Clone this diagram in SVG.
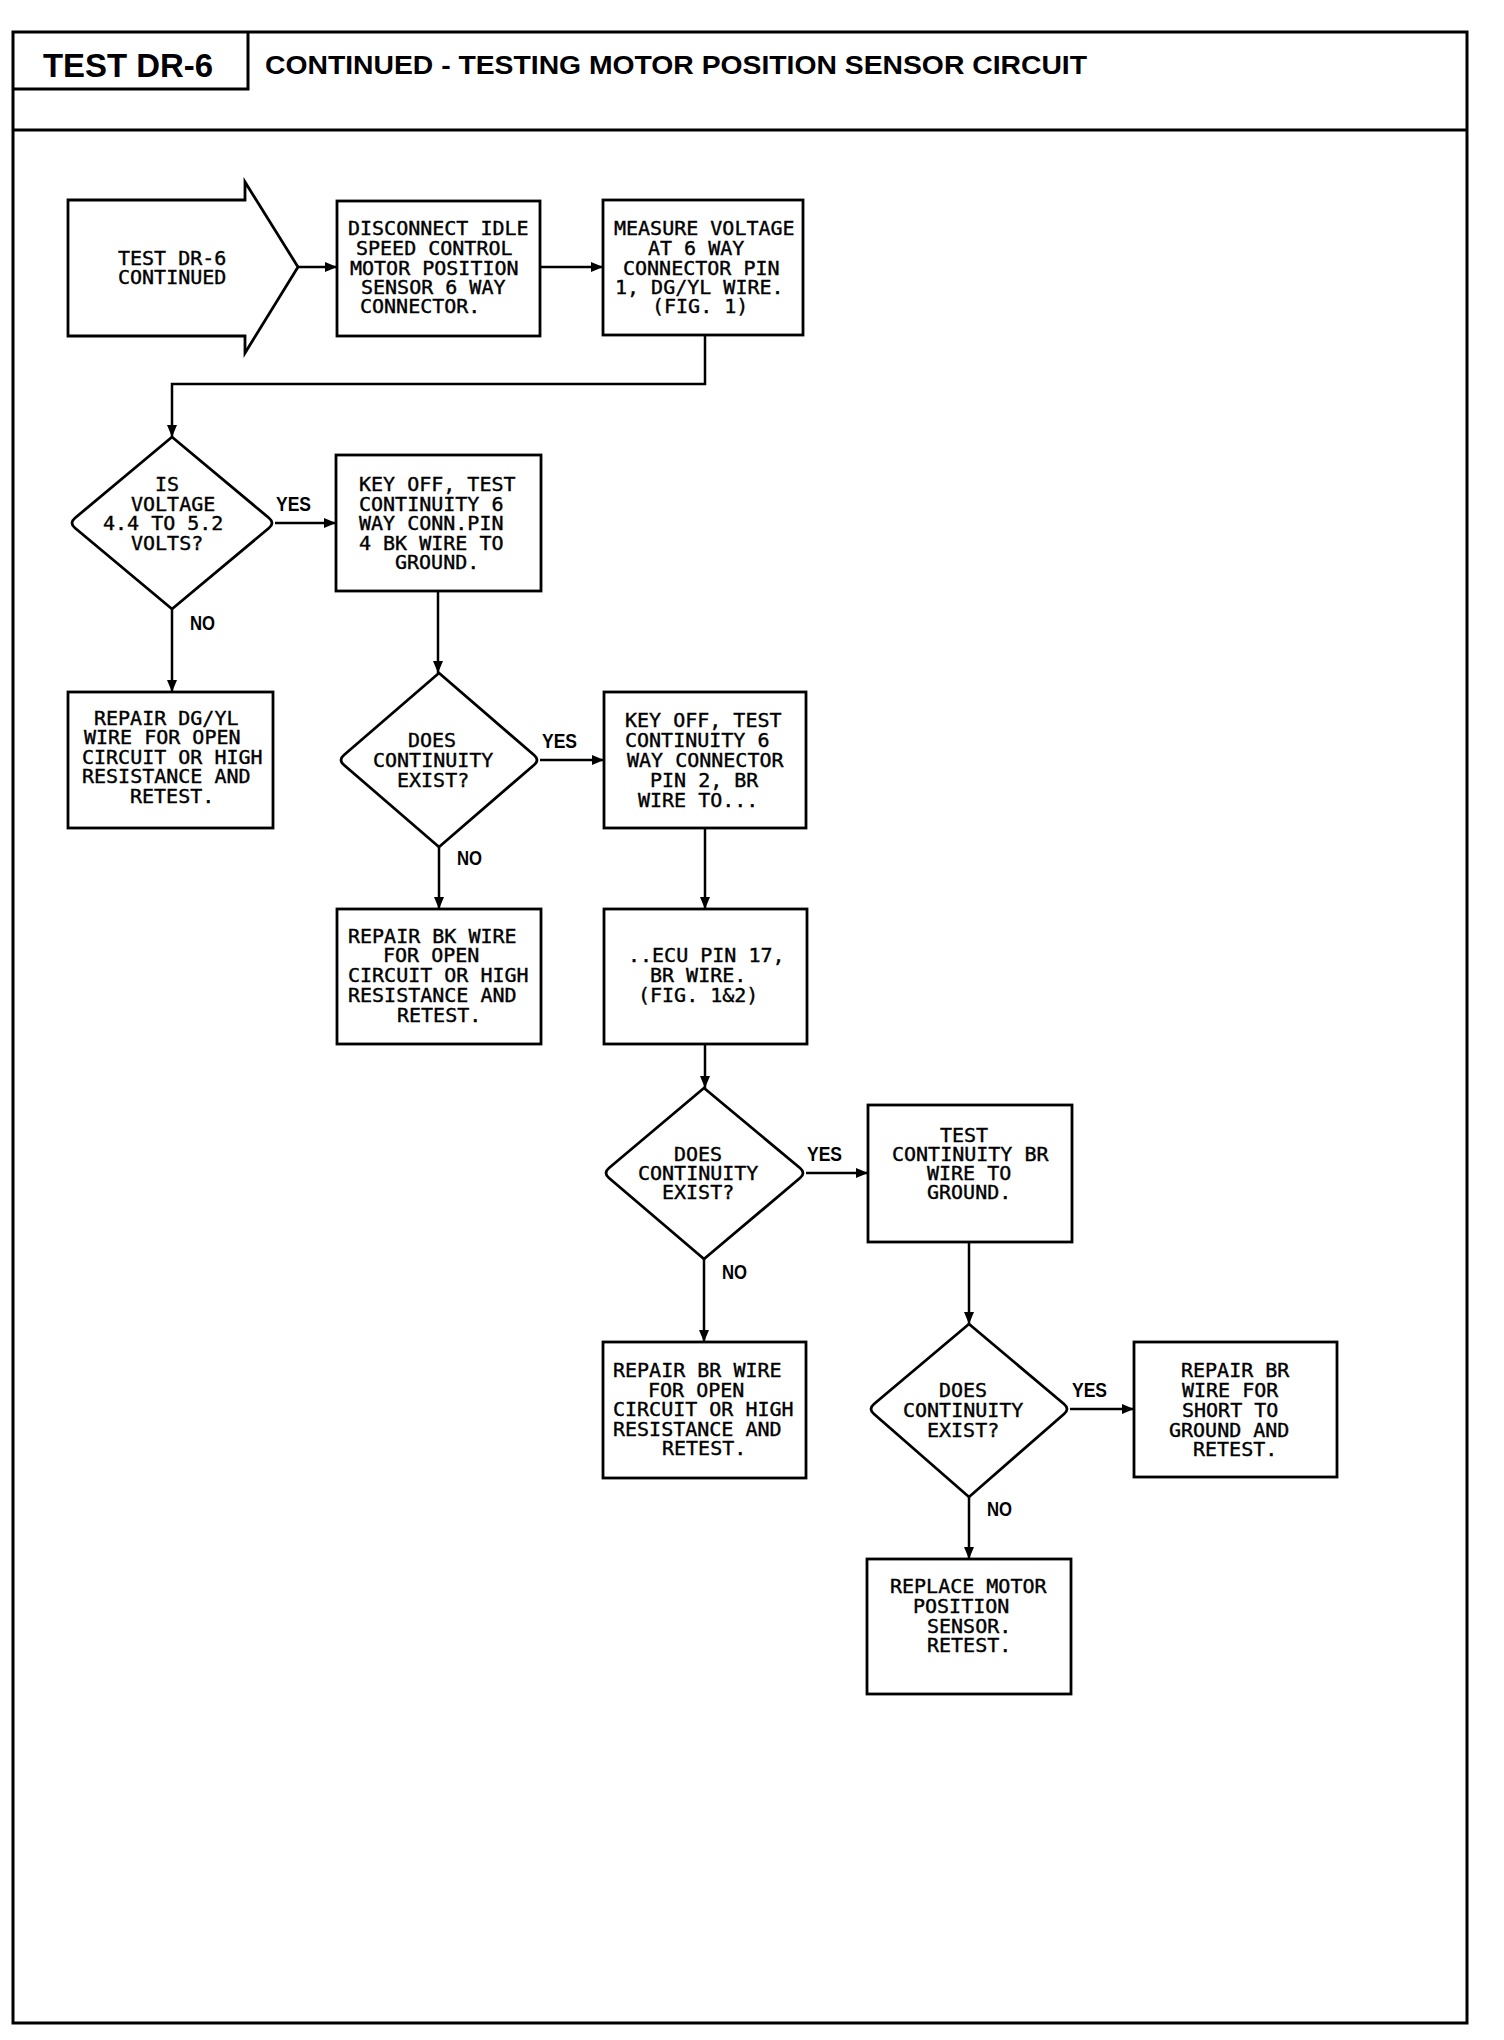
<svg xmlns="http://www.w3.org/2000/svg" width="1504" height="2040" viewBox="0 0 1504 2040">
<style>
.frame{fill:none;stroke:#000;stroke-width:3}
.box{fill:#fff;stroke:#000;stroke-width:2.8}
.con{fill:none;stroke:#000;stroke-width:2.5}
.t{font-family:"DejaVu Sans Mono","Liberation Mono",monospace;font-size:20px;fill:#000;stroke:#000;stroke-width:0.4}
.lbl{font-family:"Liberation Sans",Arial,sans-serif;font-size:21px;font-weight:bold;fill:#000}
.hd{font-family:"Liberation Sans",Arial,sans-serif;font-weight:bold;fill:#000}
</style>
<defs>
<marker id="ah" markerUnits="userSpaceOnUse" markerWidth="12" markerHeight="10" refX="12" refY="5" orient="auto">
<path d="M0,0 L12,5 L0,10 Z" fill="#000"/>
</marker>
</defs>
<rect width="1504" height="2040" fill="#fff"/>
<g id="frame">
<rect class="frame" x="13" y="32" width="1454" height="1991"/>
<line class="frame" x1="13" y1="130" x2="1467" y2="130"/>
<polyline class="frame" points="13,89 248,89 248,32"/>
<text class="hd" x="43" y="77" font-size="34" textLength="170" lengthAdjust="spacingAndGlyphs">TEST DR-6</text>
<text class="hd" x="265" y="74" font-size="26" textLength="822" lengthAdjust="spacingAndGlyphs">CONTINUED - TESTING MOTOR POSITION SENSOR CIRCUIT</text>
</g>
<g id="connectors">
<line class="con" x1="298" y1="267" x2="337" y2="267" marker-end="url(#ah)"/>
<line class="con" x1="540" y1="267" x2="603" y2="267" marker-end="url(#ah)"/>
<polyline class="con" points="705,335 705,384 172,384 172,437" marker-end="url(#ah)"/>
<line class="con" x1="275" y1="523" x2="336" y2="523" marker-end="url(#ah)"/>
<line class="con" x1="172" y1="609" x2="172" y2="692" marker-end="url(#ah)"/>
<line class="con" x1="438" y1="591" x2="438" y2="673" marker-end="url(#ah)"/>
<line class="con" x1="540" y1="760" x2="604" y2="760" marker-end="url(#ah)"/>
<line class="con" x1="439" y1="847" x2="439" y2="909" marker-end="url(#ah)"/>
<line class="con" x1="705" y1="828" x2="705" y2="909" marker-end="url(#ah)"/>
<line class="con" x1="705" y1="1044" x2="705" y2="1088" marker-end="url(#ah)"/>
<line class="con" x1="806" y1="1173" x2="868" y2="1173" marker-end="url(#ah)"/>
<line class="con" x1="704" y1="1259" x2="704" y2="1342" marker-end="url(#ah)"/>
<line class="con" x1="969" y1="1242" x2="969" y2="1324" marker-end="url(#ah)"/>
<line class="con" x1="1070" y1="1409" x2="1134" y2="1409" marker-end="url(#ah)"/>
<line class="con" x1="969" y1="1497" x2="969" y2="1559" marker-end="url(#ah)"/>
<text class="lbl" x="276" y="511" textLength="35" lengthAdjust="spacingAndGlyphs">YES</text>
<text class="lbl" x="190" y="630" textLength="25" lengthAdjust="spacingAndGlyphs">NO</text>
<text class="lbl" x="542" y="748" textLength="35" lengthAdjust="spacingAndGlyphs">YES</text>
<text class="lbl" x="457" y="865" textLength="25" lengthAdjust="spacingAndGlyphs">NO</text>
<text class="lbl" x="807" y="1161" textLength="35" lengthAdjust="spacingAndGlyphs">YES</text>
<text class="lbl" x="722" y="1279" textLength="25" lengthAdjust="spacingAndGlyphs">NO</text>
<text class="lbl" x="1072" y="1397" textLength="35" lengthAdjust="spacingAndGlyphs">YES</text>
<text class="lbl" x="987" y="1516" textLength="25" lengthAdjust="spacingAndGlyphs">NO</text>
</g>
<g id="start">
<polygon class="box" points="68,200 245,200 245,182 298,267 245,353 245,336 68,336"/>
<text class="t" x="118" y="265">TEST DR-6</text>
<text class="t" x="118" y="284">CONTINUED</text>
</g>
<g id="disconnect">
<rect class="box" x="337" y="201" width="203" height="135"/>
<text class="t" x="348" y="235">DISCONNECT IDLE</text>
<text class="t" x="356" y="255">SPEED CONTROL</text>
<text class="t" x="350" y="275">MOTOR POSITION</text>
<text class="t" x="361" y="294">SENSOR 6 WAY</text>
<text class="t" x="360" y="313">CONNECTOR.</text>
</g>
<g id="measure">
<rect class="box" x="603" y="200" width="200" height="135"/>
<text class="t" x="614" y="235">MEASURE VOLTAGE</text>
<text class="t" x="648" y="255">AT 6 WAY</text>
<text class="t" x="623" y="275">CONNECTOR PIN</text>
<text class="t" x="615" y="294">1, DG/YL WIRE.</text>
<text class="t" x="652" y="313">(FIG. 1)</text>
</g>
<g id="dec-voltage">
<path class="box" d="M172,437 L269,518 Q275,523 269,528 L172,609 L75,528 Q69,523 75,518 Z"/>
<text class="t" x="155" y="491">IS</text>
<text class="t" x="131" y="511">VOLTAGE</text>
<text class="t" x="103" y="530">4.4 TO 5.2</text>
<text class="t" x="131" y="550">VOLTS?</text>
</g>
<g id="test-bk">
<rect class="box" x="336" y="455" width="205" height="136"/>
<text class="t" x="359" y="491">KEY OFF, TEST</text>
<text class="t" x="359" y="511">CONTINUITY 6</text>
<text class="t" x="359" y="530">WAY CONN.PIN</text>
<text class="t" x="359" y="550">4 BK WIRE TO</text>
<text class="t" x="395" y="569">GROUND.</text>
</g>
<g id="repair-dgyl">
<rect class="box" x="68" y="692" width="205" height="136"/>
<text class="t" x="94" y="725">REPAIR DG/YL</text>
<text class="t" x="84" y="744">WIRE FOR OPEN</text>
<text class="t" x="82" y="764">CIRCUIT OR HIGH</text>
<text class="t" x="82" y="783">RESISTANCE AND</text>
<text class="t" x="130" y="803">RETEST.</text>
</g>
<g id="dec-bk">
<path class="box" d="M439,673 L534,755 Q540,760 534,765 L439,847 L344,765 Q338,760 344,755 Z"/>
<text class="t" x="408" y="747">DOES</text>
<text class="t" x="373" y="767">CONTINUITY</text>
<text class="t" x="397" y="787">EXIST?</text>
</g>
<g id="test-br-ecu">
<rect class="box" x="604" y="692" width="202" height="136"/>
<text class="t" x="625" y="727">KEY OFF, TEST</text>
<text class="t" x="625" y="747">CONTINUITY 6</text>
<text class="t" x="627" y="767">WAY CONNECTOR</text>
<text class="t" x="650" y="787">PIN 2, BR</text>
<text class="t" x="638" y="807">WIRE TO...</text>
</g>
<g id="repair-bk">
<rect class="box" x="337" y="909" width="204" height="135"/>
<text class="t" x="348" y="943">REPAIR BK WIRE</text>
<text class="t" x="383" y="962">FOR OPEN</text>
<text class="t" x="348" y="982">CIRCUIT OR HIGH</text>
<text class="t" x="348" y="1002">RESISTANCE AND</text>
<text class="t" x="397" y="1022">RETEST.</text>
</g>
<g id="ecu-pin">
<rect class="box" x="604" y="909" width="203" height="135"/>
<text class="t" x="628" y="962">..ECU PIN 17,</text>
<text class="t" x="650" y="982">BR WIRE.</text>
<text class="t" x="638" y="1002">(FIG. 1&amp;2)</text>
</g>
<g id="dec-br">
<path class="box" d="M704,1088 L800,1168 Q806,1173 800,1178 L704,1259 L609,1178 Q603,1173 609,1168 Z"/>
<text class="t" x="674" y="1161">DOES</text>
<text class="t" x="638" y="1180">CONTINUITY</text>
<text class="t" x="662" y="1199">EXIST?</text>
</g>
<g id="test-br-gnd">
<rect class="box" x="868" y="1105" width="204" height="137"/>
<text class="t" x="940" y="1142">TEST</text>
<text class="t" x="892" y="1161">CONTINUITY BR</text>
<text class="t" x="927" y="1180">WIRE TO</text>
<text class="t" x="927" y="1199">GROUND.</text>
</g>
<g id="repair-br-open">
<rect class="box" x="603" y="1342" width="203" height="136"/>
<text class="t" x="613" y="1377">REPAIR BR WIRE</text>
<text class="t" x="648" y="1397">FOR OPEN</text>
<text class="t" x="613" y="1416">CIRCUIT OR HIGH</text>
<text class="t" x="613" y="1436">RESISTANCE AND</text>
<text class="t" x="662" y="1455">RETEST.</text>
</g>
<g id="dec-short">
<path class="box" d="M969,1324 L1064,1404 Q1070,1409 1064,1414 L969,1497 L874,1414 Q868,1409 874,1404 Z"/>
<text class="t" x="939" y="1397">DOES</text>
<text class="t" x="903" y="1417">CONTINUITY</text>
<text class="t" x="927" y="1437">EXIST?</text>
</g>
<g id="repair-br-short">
<rect class="box" x="1134" y="1342" width="203" height="135"/>
<text class="t" x="1181" y="1377">REPAIR BR</text>
<text class="t" x="1182" y="1397">WIRE FOR</text>
<text class="t" x="1182" y="1417">SHORT TO</text>
<text class="t" x="1169" y="1437">GROUND AND</text>
<text class="t" x="1193" y="1456">RETEST.</text>
</g>
<g id="replace-sensor">
<rect class="box" x="867" y="1559" width="204" height="135"/>
<text class="t" x="890" y="1593">REPLACE MOTOR</text>
<text class="t" x="913" y="1613">POSITION</text>
<text class="t" x="927" y="1633">SENSOR.</text>
<text class="t" x="927" y="1652">RETEST.</text>
</g>
</svg>
